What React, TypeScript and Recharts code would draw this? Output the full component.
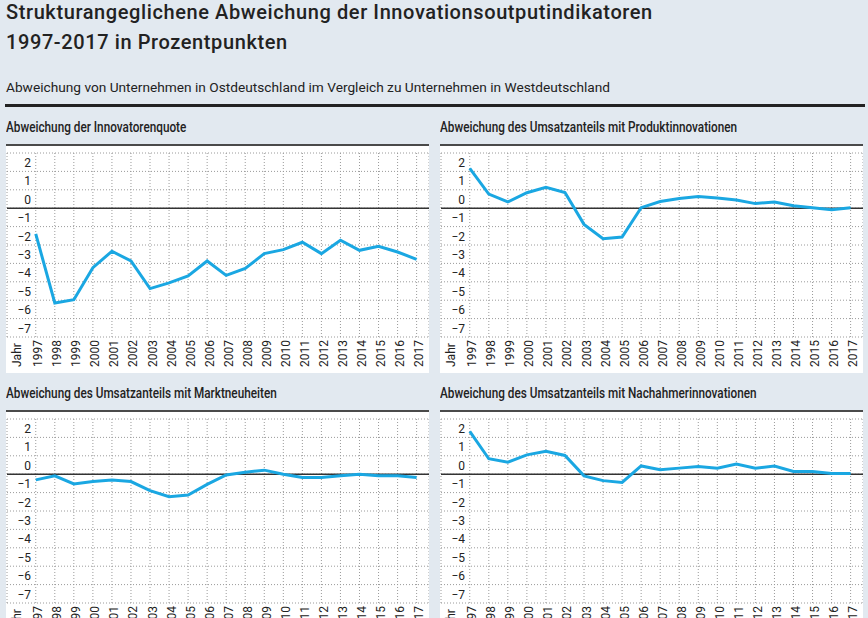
import React from 'react';
import { LineChart, Line, XAxis, YAxis, CartesianGrid, ReferenceLine } from 'recharts';

const years = [1997, 1998, 1999, 2000, 2001, 2002, 2003, 2004, 2005, 2006, 2007, 2008, 2009, 2010, 2011, 2012, 2013, 2014, 2015, 2016, 2017];

const innovatorenquote = [-1.4, -5.15, -4.97, -3.23, -2.34, -2.87, -4.37, -4.06, -3.68, -2.87, -3.65, -3.27, -2.47, -2.25, -1.85, -2.47, -1.74, -2.29, -2.07, -2.38, -2.78];
const produktinnovationen = [2.17, 0.77, 0.34, 0.84, 1.13, 0.85, -0.88, -1.66, -1.57, 0.03, 0.36, 0.53, 0.64, 0.55, 0.45, 0.25, 0.34, 0.13, 0.03, -0.09, 0.03];
const marktneuheiten = [-0.31, -0.09, -0.53, -0.4, -0.31, -0.4, -0.89, -1.22, -1.13, -0.55, -0.04, 0.11, 0.22, 0.0, -0.18, -0.18, -0.09, 0.0, -0.09, -0.09, -0.18];
const nachahmerinnovationen = [2.33, 0.84, 0.65, 1.05, 1.24, 1.02, -0.09, -0.35, -0.45, 0.45, 0.24, 0.33, 0.42, 0.33, 0.55, 0.33, 0.44, 0.15, 0.15, 0.04, 0.04];

const valueTicks = [3, 2, 1, 0, -1, -2, -3, -4, -5, -6, -7];

const mainTitle1 = 'Strukturangeglichene Abweichung der Innovationsoutputindikatoren';
const mainTitle2 = '1997-2017 in Prozentpunkten';
const subTitle = 'Abweichung von Unternehmen in Ostdeutschland im Vergleich zu Unternehmen in Westdeutschland';
const panelTitles = [
  'Abweichung der Innovatorenquote',
  'Abweichung des Umsatzanteils mit Produktinnovationen',
  'Abweichung des Umsatzanteils mit Marktneuheiten',
  'Abweichung des Umsatzanteils mit Nachahmerinnovationen',
];
const axisYearLabel = 'Jahr';

const FONT = 'Roboto, "DejaVu Sans", sans-serif';
const TEXT = '#222222';
const LINE = '#1aa7e2';
const BG = '#e2e9f0';

const YearTick = (props: any) => {
  const { x, y, payload, index } = props;
  return (
    <g>
      {index === 0 && (
        <text
          transform={`translate(${x - 19},${y + 30}) rotate(-90)`}
          textAnchor="start"
          dominantBaseline="central"
          fontSize={12}
          fontFamily={FONT}
          fill={TEXT}
        >
          {axisYearLabel}
        </text>
      )}
      <text
        transform={`translate(${x + 2.5},${y + 30}) rotate(-90)`}
        textAnchor="start"
        dominantBaseline="central"
        fontSize={12}
        fontFamily={FONT}
        fill={TEXT}
      >
        {payload.value}
      </text>
    </g>
  );
};

const ValueTick = (props: any) => {
  const { y, payload } = props;
  if (payload.value === 3) return <g />;
  const v = payload.value;
  const label = v < 0 ? `\u2212${Math.abs(v)}` : String(v);
  return (
    <text x={25} y={y - 8.5} textAnchor="end" dominantBaseline="central" fontSize={12} fontFamily={FONT} fill={TEXT}>
      {label}
    </text>
  );
};

type PanelProps = { title: string; values: number[]; left: number; top: number };

const Panel = ({ title, values, left, top }: PanelProps) => {
  const data = years.map((year, i) => ({ year, value: values[i] }));
  return (
    <>
      <div
        style={{
          position: 'absolute',
          left,
          top: top - 26,
          fontFamily: FONT,
          fontSize: 14,
          fontWeight: 500,
          lineHeight: '18px',
          color: TEXT,
          whiteSpace: 'nowrap',
          transform: 'scaleX(0.84)',
          transformOrigin: 'left center',
        }}
      >
        {title}
      </div>
      <div
        style={{
          position: 'absolute',
          left,
          top,
          width: 423,
          height: 229,
          background: '#ffffff',
          borderTop: '2px solid #4a4a4a',
          boxSizing: 'border-box',
        }}
      >
        <LineChart width={423} height={227} data={data} margin={{ top: 7, right: 0, bottom: 0, left: 0 }}>
          <CartesianGrid stroke="#9a9a9a" strokeDasharray="1 2" />
          <XAxis
            dataKey="year"
            type="number"
            domain={[1995.49, 2017.65]}
            ticks={years}
            interval={0}
            allowDataOverflow
            axisLine={false}
            tickLine={false}
            tickSize={0}
            tickMargin={0}
            height={36}
            tick={<YearTick />}
          />
          <YAxis
            type="number"
            domain={[-7, 3]}
            ticks={valueTicks}
            interval={0}
            width={1}
            axisLine={false}
            tickLine={false}
            tickSize={0}
            tickMargin={0}
            tick={<ValueTick />}
          />
          <ReferenceLine y={0} stroke="#333333" strokeWidth={1.5} />
          <Line
            type="linear"
            dataKey="value"
            stroke={LINE}
            strokeWidth={3}
            dot={false}
            activeDot={false}
            isAnimationActive={false}
          />
        </LineChart>
      </div>
    </>
  );
};

export default function App() {
  return (
    <div
      style={{
        position: 'absolute',
        left: 0,
        top: 0,
        width: 868,
        height: 618,
        overflow: 'hidden',
        background: BG,
        fontFamily: FONT,
      }}
    >
      <div style={{ position: 'absolute', left: 6, top: 0, fontSize: 20, fontWeight: 500, letterSpacing: 0.6, lineHeight: '24px', color: TEXT, whiteSpace: 'nowrap' }}>
        {mainTitle1}
      </div>
      <div style={{ position: 'absolute', left: 6, top: 30, fontSize: 20, fontWeight: 500, letterSpacing: 0.6, lineHeight: '24px', color: TEXT, whiteSpace: 'nowrap' }}>
        {mainTitle2}
      </div>
      <div style={{ position: 'absolute', left: 6, top: 78, fontSize: 13.7, lineHeight: '18px', color: TEXT, whiteSpace: 'nowrap' }}>
        {subTitle}
      </div>
      <div style={{ position: 'absolute', left: 5, top: 104, width: 860, height: 3, background: '#222222' }} />
      <Panel title={panelTitles[0]} values={innovatorenquote} left={6} top={144} />
      <Panel title={panelTitles[1]} values={produktinnovationen} left={440} top={144} />
      <Panel title={panelTitles[2]} values={marktneuheiten} left={6} top={410} />
      <Panel title={panelTitles[3]} values={nachahmerinnovationen} left={440} top={410} />
    </div>
  );
}
